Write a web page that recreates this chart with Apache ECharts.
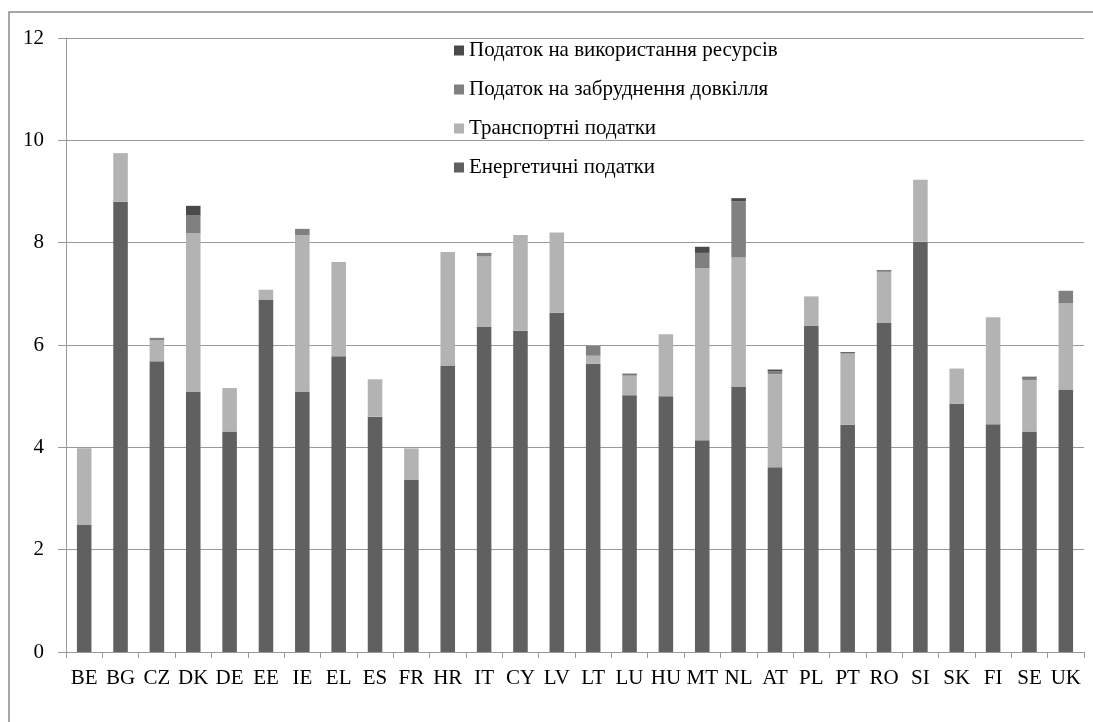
<!DOCTYPE html>
<html>
<head>
<meta charset="utf-8">
<script src="https://cdn.jsdelivr.net/npm/echarts@6/dist/echarts.min.js"></script>
<style>
html,body{margin:0;padding:0;background:#fff;}
#chart{width:1093px;height:722px;}
</style>
</head>
<body>
<div id="chart"></div>
<script>
const categories = ['BE','BG','CZ','DK','DE','EE','IE','EL','ES','FR','HR','IT','CY','LV','LT','LU','HU','MT','NL','AT','PL','PT','RO','SI','SK','FI','SE','UK'];
const energyTaxes    = [2.48,8.80,5.68,5.09,4.31,6.89,5.09,5.78,4.60,3.37,5.60,6.35,6.28,6.63,5.63,5.02,5.00,4.14,5.18,3.61,6.37,4.44,6.43,8.02,4.85,4.45,4.31,5.13];
const transportTaxes = [1.50,0.95,0.41,3.09,0.85,0.19,3.06,1.84,0.73,0.61,2.22,1.38,1.87,1.57,0.16,0.38,1.21,3.36,2.53,1.82,0.58,1.39,1.00,1.21,0.69,2.09,1.00,1.69];
const pollutionTaxes = [0,0,0.05,0.35,0,0,0.12,0,0,0,0,0.07,0,0,0.19,0.02,0,0.30,1.10,0.06,0,0.01,0.01,0,0,0,0.05,0.24];
const resourceTaxes  = [0,0,0,0.19,0,0,0,0,0,0,0,0,0,0,0,0.02,0,0.12,0.06,0.03,0,0.02,0.02,0,0,0,0.02,0];
const yTicks = [0,2,4,6,8,10,12];

const names = {
  energy: 'Енергетичні податки',
  transport: 'Транспортні податки',
  pollution: 'Податок на забруднення довкілля',
  resource: 'Податок на використання ресурсів'
};
const FONT = 'Liberation Serif, Times New Roman, serif';

const chart = echarts.init(document.getElementById('chart'), null, {renderer:'canvas'});
function bar(name, data, color){
  return {name, type:'bar', stack:'total', data, barWidth:'40%',
    itemStyle:{color}, emphasis:{disabled:true}};
}
chart.setOption({
  animation:false,
  backgroundColor:'#fff',
  graphic:[{type:'rect', shape:{x:9, y:12, width:1200, height:800},
    style:{fill:'none', stroke:'#8a8a8a', lineWidth:1.5}, silent:true}],
  grid:{left:66, right:9, top:38, bottom:70, containLabel:false},
  legend:{
    orient:'vertical', left:449, top:35,
    itemWidth:10, itemHeight:10, itemGap:18,
    icon:'rect',
    data:[names.resource, names.pollution, names.transport, names.energy],
    textStyle:{fontFamily:FONT, fontSize:21, color:'#000', lineHeight:21}
  },
  xAxis:{
    type:'category', data:categories,
    axisLine:{lineStyle:{color:'#999'}},
    axisTick:{show:true, alignWithLabel:false, length:6, lineStyle:{color:'#999'}},
    axisLabel:{fontFamily:FONT, fontSize:21, color:'#000', margin:16, interval:0}
  },
  yAxis:{
    type:'value', min:yTicks[0], max:yTicks[yTicks.length-1], interval:2,
    axisLine:{show:true, lineStyle:{color:'#999'}},
    axisTick:{show:true, length:8, lineStyle:{color:'#999'}},
    splitLine:{lineStyle:{color:'#999'}},
    axisLabel:{fontFamily:FONT, fontSize:21, color:'#000', margin:22}
  },
  series:[
    bar(names.energy, energyTaxes, '#606060'),
    bar(names.transport, transportTaxes, '#b3b3b3'),
    bar(names.pollution, pollutionTaxes, '#808080'),
    bar(names.resource, resourceTaxes, '#4a4a4a')
  ]
});
</script>
</body>
</html>
